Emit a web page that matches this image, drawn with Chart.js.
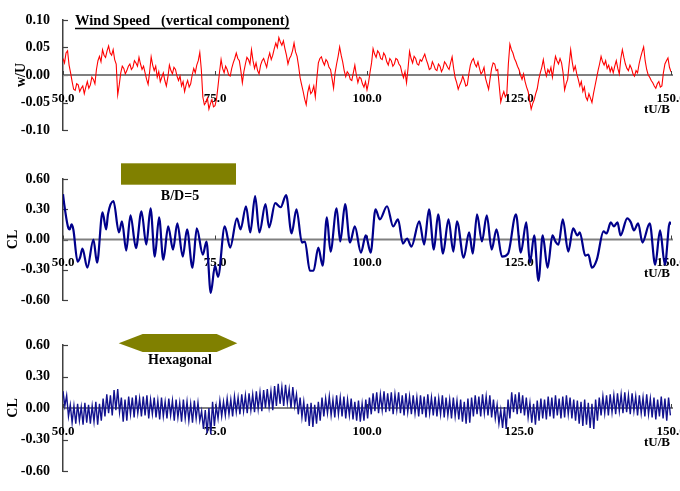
<!DOCTYPE html>
<html>
<head>
<meta charset="utf-8">
<script src="https://cdn.jsdelivr.net/npm/chart.js@4.4.1/dist/chart.umd.min.js"></script>
<style>
  html, body { margin: 0; padding: 0; background: #fff; }
  #wrap { position: relative; width: 680px; height: 491px; overflow: hidden; }
  #wrap canvas { position: absolute; left: 0; }
</style>
</head>
<body>
<div id="wrap">
  <canvas id="wind" width="680" height="150" style="top:0px"></canvas>
  <canvas id="rect" width="680" height="170" style="top:150px"></canvas>
  <canvas id="hex" width="680" height="171" style="top:320px"></canvas>
</div>
<script>
// ---- time axis ----
const timeTicks = [50, 75, 100, 125, 150];
const timeTitle = 'tU/B';

// ---- vertical wind speed w/U, sampled every 0.25 tU/B from 50.0 (one row = 5 tU/B) ----
const windStart = 50;
const windStep = 0.25;
const windW = [
   0.030,  0.022,  0.040,  0.044,  0.018,  0.004, -0.012, -0.026, -0.028, -0.016, -0.018, -0.030, -0.024, -0.020, -0.034, -0.022, -0.012, -0.024, -0.018, -0.004,
  -0.008, -0.016,  0.010,  0.026,  0.034,  0.024,  0.046,  0.036,  0.032,  0.044,  0.053,  0.040,  0.036,  0.046,  0.028,  0.020, -0.036, -0.018,  0.004,  0.016,
   0.012,  0.002,  0.008,  0.016,  0.020,  0.010,  0.014,  0.026,  0.022,  0.016,  0.032,  0.020,  0.010,  0.016,  0.004, -0.008, -0.017,  0.006,  0.033,  0.018,
   0.008,  0.016, -0.004,  0.006, -0.012, -0.004,  0.004, -0.010, -0.020, -0.004,  0.018,  0.008,  0.002,  0.014,  0.010, -0.002, -0.010, -0.002, -0.020, -0.012,
  -0.030, -0.018, -0.010, -0.022, -0.016,  0.000,  0.012,  0.004,  0.018,  0.026,  0.041,  0.010, -0.040, -0.054, -0.050, -0.042, -0.062, -0.052, -0.045, -0.058,
  -0.056, -0.044, -0.020,  0.006,  0.028,  0.012,  0.004,  0.016,  0.010,  0.000, -0.002,  0.012,  0.022,  0.030,  0.040,  0.030,  0.026,  0.008, -0.014,  0.006,
   0.020,  0.032,  0.028,  0.020,  0.046,  0.026,  0.012,  0.022,  0.008,  0.002,  0.018,  0.026,  0.030,  0.022,  0.014,  0.030,  0.040,  0.028,  0.036,  0.048,
   0.058,  0.050,  0.068,  0.060,  0.054,  0.062,  0.048,  0.036,  0.020,  0.030,  0.035,  0.044,  0.058,  0.042,  0.034,  0.016, -0.005, -0.018, -0.030, -0.044,
  -0.054, -0.032, -0.020, -0.034, -0.030, -0.020, -0.040, -0.006,  0.022,  0.030,  0.033,  0.024,  0.018,  0.028,  0.024,  0.014,  0.010, -0.006, -0.024,  0.004,
   0.020,  0.034,  0.051,  0.036,  0.024,  0.008, -0.003,  0.006,  0.002, -0.008, -0.010,  0.004,  0.018,  0.000, -0.014, -0.004, -0.006, -0.016, -0.022, -0.012,
  -0.027, -0.014,  0.005,  0.022,  0.048,  0.038,  0.032,  0.044,  0.040,  0.030,  0.028,  0.040,  0.035,  0.024,  0.018,  0.030,  0.026,  0.016,  0.020,  0.030,
   0.028,  0.020,  0.016,  0.004, -0.005,  0.006, -0.014,  0.012,  0.043,  0.030,  0.022,  0.034,  0.030,  0.020,  0.018,  0.028,  0.025,  0.032,  0.038,  0.028,
   0.020,  0.010,  0.012,  0.024,  0.018,  0.010,  0.008,  0.020,  0.016,  0.006,  0.012,  0.024,  0.020,  0.014,  0.010,  0.022,  0.033,  0.012, -0.005, -0.014,
  -0.026, -0.018, -0.012, -0.002, -0.010, -0.020, -0.018,  0.002,  0.018,  0.026,  0.030,  0.020,  0.015,  0.024,  0.012,  0.002,  0.006,  0.014, -0.006, -0.016,
  -0.026, -0.006,  0.012,  0.022,  0.020,  0.008,  0.010, -0.020, -0.049, -0.038, -0.030, -0.040, -0.034,  0.020,  0.056,  0.046,  0.040,  0.030,  0.024,  0.016,
   0.010,  0.000, -0.008,  0.002, -0.012, -0.022, -0.030, -0.046, -0.062, -0.052, -0.045, -0.034, -0.025, -0.008,  0.004,  0.014,  0.028,  0.010, -0.002,  0.010,
   0.004,  0.014, -0.004,  0.016,  0.034,  0.026,  0.020,  0.030,  0.022,  0.004, -0.027, -0.016, -0.008,  0.020,  0.046,  0.024,  0.008,  0.016,  0.002, -0.008,
  -0.020, -0.012, -0.030, -0.022, -0.040, -0.046, -0.034, -0.042, -0.050, -0.034, -0.020, -0.006,  0.008,  0.020,  0.034,  0.024,  0.018,  0.026,  0.012,  0.018,
   0.006,  0.014,  0.004,  0.016,  0.026,  0.012,  0.002,  0.030,  0.046,  0.032,  0.020,  0.012,  0.008,  0.018,  0.012,  0.002, -0.002,  0.008,  0.004,  0.020,
   0.032,  0.042,  0.051,  0.026,  0.010,  0.000, -0.004, -0.010, -0.014, -0.020, -0.024, -0.016, -0.012, -0.022, -0.020,  0.004,  0.020,  0.026,  0.031,  0.014,
   0.006
];

// ---- lift coefficient, rectangular section B/D=5 (turning points) ----
const rectTime = [
   50.0,  50.2,  50.8,  51.1,  51.4,  51.7,  52.4,  52.8,  53.2,  54.0,
   55.0,  55.6,  56.5,  57.1,  57.4,  58.3,  59.2,  59.7,  60.4,  61.1,
   62.0,  62.9,  63.7,  64.4,  65.1,  65.8,  66.5,  67.3,  68.1,  68.8,
   69.7,  70.4,  71.3,  72.0,  73.0,  73.6,  74.3,  75.0,  75.5,  76.6,
   77.5,  78.6,  79.2,  80.1,  80.8,  81.6,  82.3,  83.3,  83.9,  84.9,
   85.8,  86.7,  87.6,  88.4,  89.3,  89.8,  90.6,  91.2,  92.0,  92.7,
   93.4,  94.0,  95.0,  95.6,  96.4,  97.2,  98.0,  99.0,  99.8, 100.6,
  101.4, 102.1, 103.3, 104.3, 105.1, 105.9, 106.6, 107.3, 108.6, 109.4,
  110.2, 111.0, 111.7, 112.5, 113.4, 114.2, 114.8, 115.9, 116.8, 117.4,
  118.1, 118.9, 119.7, 120.5, 121.3, 122.2, 123.2, 124.5, 125.3, 126.2,
  126.8, 127.5, 128.2, 128.9, 129.7, 130.5, 131.0, 131.5, 132.2, 133.1,
  133.9, 134.6, 135.0, 135.9, 136.4, 137.0, 137.8, 138.9, 139.4, 140.1,
  140.6, 141.2, 141.7, 142.8, 143.4, 143.9, 144.6, 145.3, 146.5, 147.4,
  148.2, 149.0, 149.8, 150.0
];
const rectCL = [
   0.45,  0.35,  0.13,  0.10,  0.15,  0.10, -0.22, -0.18, -0.09, -0.28,
   0.00, -0.23,  0.27,  0.10,  0.25,  0.38,  0.07,  0.18, -0.11,  0.24,
  -0.085, 0.28, -0.05,  0.31, -0.17,  0.22, -0.20,  0.13, -0.10,  0.16,
  -0.17,  0.10, -0.28,  0.11, -0.15, -0.02, -0.53, -0.26, -0.37,  0.13,
  -0.08,  0.21,  0.10,  0.33,  0.07,  0.43,  0.07,  0.35,  0.12,  0.36,
   0.32,  0.44,  0.06,  0.30, -0.03, -0.02, -0.31, -0.31, -0.08, -0.26,
   0.22, -0.12,  0.31, -0.02,  0.35, -0.03,  0.13, -0.13,  0.04, -0.13,
   0.30,  0.20,  0.33,  0.13,  0.20, -0.04,  0.01, -0.07,  0.18, -0.05,
   0.30, -0.10,  0.25, -0.14,  0.20, -0.12,  0.18, -0.18,  0.07, -0.14,
   0.25, -0.02,  0.24, -0.10,  0.10, -0.17, -0.14,  0.25, -0.13,  0.17,
  -0.23,  0.04, -0.41,  0.04, -0.28,  0.04, -0.02, -0.05,  0.20, -0.12,
   0.11,  0.04,  0.07, -0.16, -0.15, -0.28, -0.20,  0.08,  0.06,  0.17,
   0.13,  0.17,  0.04,  0.21,  0.17,  0.09,  0.16, -0.03,  0.16, -0.25,
   0.09, -0.25,  0.17,  0.15
];

// ---- lift coefficient, hexagonal section: crest and trough of each cycle ----
// one crest/trough pair every 0.6 tU/B starting at 50.0
const hexStart = 50;
const hexHalfCycle = 0.3;
const hexCrest = [
   0.16,  0.12,  0.03,  0.02,  0.04,  0.01,  0.05,  0.03,  0.02,  0.06,
   0.04,  0.09,  0.13,  0.12,  0.17,  0.18,  0.10,  0.08,  0.11,  0.10,
   0.12,  0.09,  0.11,  0.12,  0.08,  0.10,  0.07,  0.10,  0.06,  0.09,
   0.07,  0.08,  0.05,  0.08,  0.06,  0.04,  0.07,  0.05, -0.03, -0.02,
   0.00,  0.06,  0.02,  0.07,  0.06,  0.09,  0.08,  0.11,  0.10,  0.13,
   0.12,  0.14,  0.13,  0.16,  0.15,  0.17,  0.18,  0.16,  0.21,  0.23,
   0.20,  0.22,  0.18,  0.20,  0.13,  0.10,  0.06,  0.04,  0.05,  0.03,
   0.06,  0.10,  0.09,  0.11,  0.08,  0.12,  0.10,  0.11,  0.08,  0.09,
   0.06,  0.07,  0.04,  0.08,  0.10,  0.14,  0.15,  0.13,  0.16,  0.14,
   0.15,  0.13,  0.15,  0.12,  0.14,  0.11,  0.12,  0.10,  0.12,  0.11,
   0.13,  0.10,  0.11,  0.09,  0.12,  0.10,  0.08,  0.10,  0.07,  0.08,
   0.06,  0.09,  0.10,  0.12,  0.11,  0.13,  0.11,  0.12,  0.08,  0.03,
  -0.02,  0.01,  0.08,  0.15,  0.13,  0.15,  0.12,  0.10,  0.05,  0.04,
   0.07,  0.09,  0.08,  0.11,  0.10,  0.12,  0.09,  0.11,  0.12,  0.10,
   0.08,  0.07,  0.06,  0.08,  0.05,  0.04,  0.08,  0.10,  0.11,  0.12,
   0.13,  0.12,  0.14,  0.13,  0.15,  0.12,  0.14,  0.11,  0.12,  0.10,
   0.13,  0.09,  0.10,  0.08,  0.11,  0.09,  0.10
];
const hexTrough = [
   0.02, -0.08, -0.14, -0.15, -0.12, -0.16, -0.14, -0.15, -0.13, -0.16,
  -0.12, -0.08, -0.05, -0.07, -0.02, -0.04, -0.13, -0.12, -0.06, -0.09,
  -0.05, -0.08, -0.07, -0.10, -0.06, -0.09, -0.11, -0.08, -0.10, -0.07,
  -0.12, -0.09, -0.13, -0.10, -0.12, -0.14, -0.10, -0.12, -0.20, -0.24,
  -0.25, -0.17, -0.10, -0.08, -0.07, -0.06, -0.08, -0.04, -0.06, -0.03,
  -0.05, -0.02, -0.04, -0.01, -0.03,  0.00,  0.01, -0.02,  0.02,  0.04,
   0.02,  0.05,  0.00,  0.02, -0.06, -0.09, -0.13, -0.17, -0.18, -0.15,
  -0.12, -0.08, -0.05, -0.07, -0.09, -0.06, -0.08, -0.10, -0.07, -0.11,
  -0.12, -0.13, -0.12, -0.10, -0.06, -0.03, -0.05, -0.02, -0.04, -0.03,
  -0.06, -0.02, -0.05, -0.07, -0.04, -0.06, -0.05, -0.08, -0.06, -0.09,
  -0.05, -0.07, -0.08, -0.06, -0.09, -0.07, -0.10, -0.08, -0.11, -0.13,
  -0.15, -0.14, -0.08, -0.06, -0.08, -0.05, -0.07, -0.09, -0.10, -0.15,
  -0.19, -0.20, -0.10, -0.04, -0.06, -0.05, -0.07, -0.09, -0.14, -0.16,
  -0.12, -0.10, -0.11, -0.08, -0.10, -0.07, -0.10, -0.09, -0.06, -0.10,
  -0.12, -0.15, -0.17, -0.16, -0.19, -0.20, -0.12, -0.07, -0.05, -0.07,
  -0.04, -0.06, -0.03, -0.05, -0.04, -0.06, -0.03, -0.07, -0.05, -0.08,
  -0.06, -0.09, -0.11, -0.08, -0.10, -0.12, -0.07
];

// ---- build point lists for the library ----
const windPoints = windW.map((w, i) => ({ x: windStart + i * windStep, y: w }));
const rectPoints = rectTime.map((t, i) => ({ x: t, y: rectCL[i] }));
const hexPoints = [];
hexCrest.forEach((c, i) => {
  hexPoints.push({ x: hexStart + (2 * i) * hexHalfCycle, y: c });
  hexPoints.push({ x: hexStart + (2 * i + 1) * hexHalfCycle, y: hexTrough[i] });
});

const SERIF = '"Liberation Serif", "Times New Roman", Times, serif';
const OLIVE = '#808000';

// axis furniture: inward ticks, zero line with time labels, rotated axis title
function furniture(key, yTitle, titleX, extra) {
  return {
    id: 'furniture_' + key,
    beforeDatasetsDraw(chart) {
      const ctx = chart.ctx;
      const xs = chart.scales.x, ys = chart.scales.y, area = chart.chartArea;
      const y0 = ys.getPixelForValue(0);
      ctx.save();

      ctx.strokeStyle = '#404040';
      ctx.lineWidth = 1.2;
      ys.ticks.forEach(t => {
        const py = Math.round(ys.getPixelForValue(t.value)) + 0.5;
        ctx.beginPath();
        ctx.moveTo(area.left, py);
        ctx.lineTo(area.left + 5, py);
        ctx.stroke();
      });

      ctx.strokeStyle = '#808080';
      ctx.lineWidth = 2;
      ctx.beginPath();
      ctx.moveTo(area.left, y0);
      ctx.lineTo(area.right + 2, y0);
      ctx.stroke();

      ctx.strokeStyle = '#404040';
      ctx.lineWidth = 1;
      timeTicks.forEach(t => {
        const px = Math.round(xs.getPixelForValue(t)) + 0.5;
        ctx.beginPath();
        ctx.moveTo(px, y0);
        ctx.lineTo(px, y0 - 4);
        ctx.stroke();
      });

      ctx.fillStyle = '#000';
      ctx.font = 'bold 13px ' + SERIF;
      ctx.textAlign = 'center';
      ctx.textBaseline = 'alphabetic';
      timeTicks.forEach(t => ctx.fillText(t.toFixed(1), xs.getPixelForValue(t), y0 + 26.5));
      ctx.fillText(timeTitle, 657, y0 + 37.5);

      ctx.save();
      ctx.translate(titleX, y0);
      ctx.rotate(-Math.PI / 2);
      ctx.font = 'bold 14px ' + SERIF;
      ctx.textAlign = 'center';
      ctx.textBaseline = 'middle';
      ctx.fillText(yTitle, 0, 0);
      ctx.restore();

      if (extra) extra(ctx, chart);
      ctx.restore();
    }
  };
}

function makePanel(id, points, line, yRange, pad, deco) {
  return new Chart(document.getElementById(id), {
    type: 'line',
    data: {
      datasets: [{
        data: points,
        borderColor: line.color,
        borderWidth: line.width,
        pointRadius: 0,
        tension: line.smooth ? 0.4 : 0,
        cubicInterpolationMode: line.smooth ? 'monotone' : 'default',
        fill: false
      }]
    },
    options: {
      responsive: false,
      animation: false,
      events: [],
      layout: { padding: { top: pad.top, bottom: pad.bottom, left: 0, right: 9 } },
      plugins: { legend: { display: false }, tooltip: { enabled: false } },
      scales: {
        x: { type: 'linear', min: 50, max: 150, display: false },
        y: {
          type: 'linear',
          min: yRange.min,
          max: yRange.max,
          afterFit: s => { s.width = 63; },
          ticks: {
            stepSize: yRange.step,
            padding: 13,
            color: '#000',
            font: { family: SERIF, size: 14, weight: 'bold', lineHeight: 1 },
            callback: v => (Math.abs(v) < 1e-9 ? 0 : v).toFixed(2)
          },
          grid: { display: true, drawOnChartArea: false, drawTicks: false },
          border: { display: true, color: '#404040', width: 1.5 }
        }
      }
    },
    plugins: [deco]
  });
}

// Panel 1: vertical component of the wind speed
makePanel('wind', windPoints, { color: '#ff0000', width: 1.1 },
  { min: -0.1, max: 0.1, step: 0.05 }, { top: 9, bottom: 8 },
  furniture('wind', 'w/U', 21, ctx => {
    const label = 'Wind Speed   (vertical component)';
    ctx.font = 'bold 14.5px ' + SERIF;
    ctx.textAlign = 'left';
    ctx.textBaseline = 'alphabetic';
    ctx.fillStyle = '#000';
    ctx.fillText(label, 75, 24.5);
    const w = ctx.measureText(label).width;
    ctx.strokeStyle = '#000';
    ctx.lineWidth = 1.4;
    ctx.beginPath();
    ctx.moveTo(75, 28.5);
    ctx.lineTo(75 + w, 28.5);
    ctx.stroke();
  }));

// Panel 2: rectangular section B/D=5
makePanel('rect', rectPoints, { color: '#00008b', width: 2.2, smooth: true },
  { min: -0.6, max: 0.6, step: 0.3 }, { top: 29, bottom: 9 },
  furniture('rect', 'CL', 13, ctx => {
    ctx.fillStyle = OLIVE;
    ctx.fillRect(121, 13.3, 115, 21.4);
    ctx.fillStyle = '#000';
    ctx.font = 'bold 14px ' + SERIF;
    ctx.textAlign = 'center';
    ctx.textBaseline = 'alphabetic';
    ctx.fillText('B/D=5', 180, 50);
  }));

// Panel 3: hexagonal section
makePanel('hex', hexPoints, { color: '#12128f', width: 1.4 },
  { min: -0.6, max: 0.6, step: 0.3 }, { top: 25, bottom: 10 },
  furniture('hex', 'CL', 13, ctx => {
    ctx.fillStyle = OLIVE;
    ctx.beginPath();
    ctx.moveTo(118.7, 23.2);
    ctx.lineTo(142.7, 14);
    ctx.lineTo(216.7, 14);
    ctx.lineTo(237.3, 23.2);
    ctx.lineTo(216.7, 32);
    ctx.lineTo(142.7, 32);
    ctx.closePath();
    ctx.fill();
    ctx.fillStyle = '#000';
    ctx.font = 'bold 14px ' + SERIF;
    ctx.textAlign = 'center';
    ctx.textBaseline = 'alphabetic';
    ctx.fillText('Hexagonal', 180, 43.5);
  }));
</script>
</body>
</html>
